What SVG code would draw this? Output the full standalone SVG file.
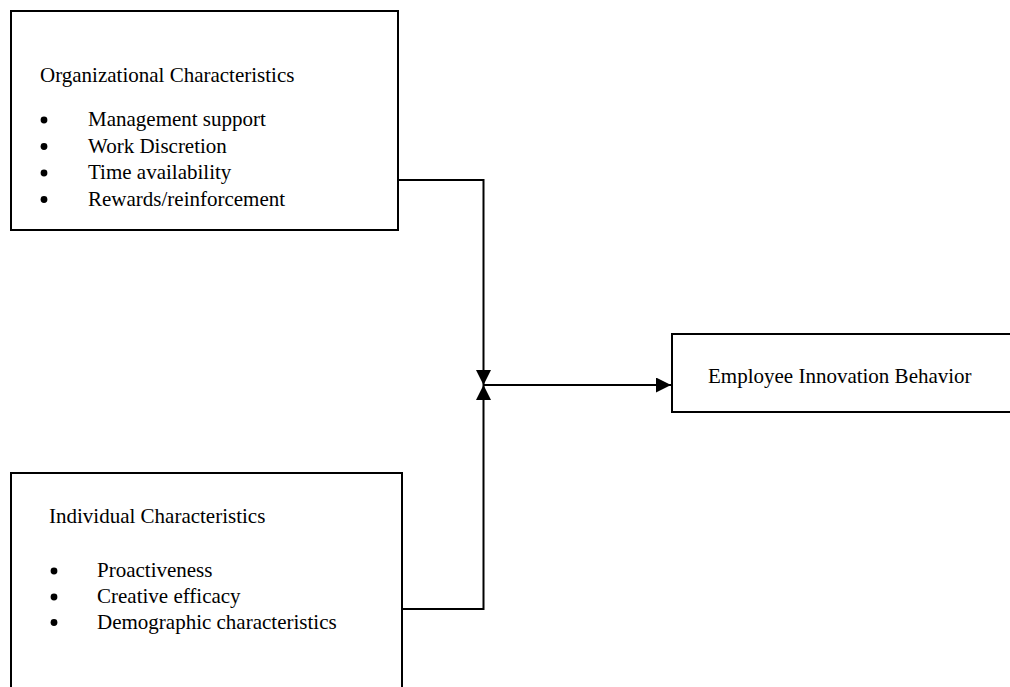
<svg xmlns="http://www.w3.org/2000/svg" width="1010" height="687" viewBox="0 0 1010 687">
  <style>
    .box { fill: #ffffff; stroke: #000000; stroke-width: 2; }
    .t { font-family: "Liberation Serif", "Times New Roman", serif; font-size: 21px; fill: #000000; }
    .dot { fill: #000000; }
    .conn { fill: none; stroke: #000000; stroke-width: 2; }
  </style>
  <defs>
    <marker id="arrow" viewBox="0 0 10 10" refX="10" refY="5" markerWidth="15" markerHeight="15" markerUnits="userSpaceOnUse" orient="auto">
      <path d="M0,0 L10,5 L0,10 z" fill="#000000"/>
    </marker>
  </defs>
  <rect width="1010" height="687" fill="#ffffff"/>

  <g id="connectors">
    <path class="conn" d="M398 180 H483.5 V385" marker-end="url(#arrow)"/>
    <path class="conn" d="M402 609 H483.5 V385" marker-end="url(#arrow)"/>
    <path class="conn" d="M483.5 385 H671" marker-end="url(#arrow)"/>
  </g>

  <g id="org">
    <rect class="box" x="11" y="11" width="387" height="219"/>
    <text class="t" x="40" y="82">Organizational Characteristics</text>
    <circle class="dot" cx="44" cy="120" r="3.4"/>
    <text class="t" x="88" y="126">Management support</text>
    <circle class="dot" cx="44" cy="146.5" r="3.4"/>
    <text class="t" x="88" y="152.5">Work Discretion</text>
    <circle class="dot" cx="44" cy="173" r="3.4"/>
    <text class="t" x="88" y="179">Time availability</text>
    <circle class="dot" cx="44" cy="199.5" r="3.4"/>
    <text class="t" x="88" y="205.5">Rewards/reinforcement</text>
  </g>

  <g id="ind">
    <rect class="box" x="11" y="473" width="391" height="240"/>
    <text class="t" x="49" y="523">Individual Characteristics</text>
    <circle class="dot" cx="54" cy="571" r="3.4"/>
    <text class="t" x="97" y="577">Proactiveness</text>
    <circle class="dot" cx="54" cy="597" r="3.4"/>
    <text class="t" x="97" y="603">Creative efficacy</text>
    <circle class="dot" cx="54" cy="622.5" r="3.4"/>
    <text class="t" x="97" y="628.5">Demographic characteristics</text>
  </g>

  <g id="eib">
    <rect class="box" x="672" y="334" width="400" height="78"/>
    <text class="t" x="708" y="383">Employee Innovation Behavior</text>
  </g>
</svg>
